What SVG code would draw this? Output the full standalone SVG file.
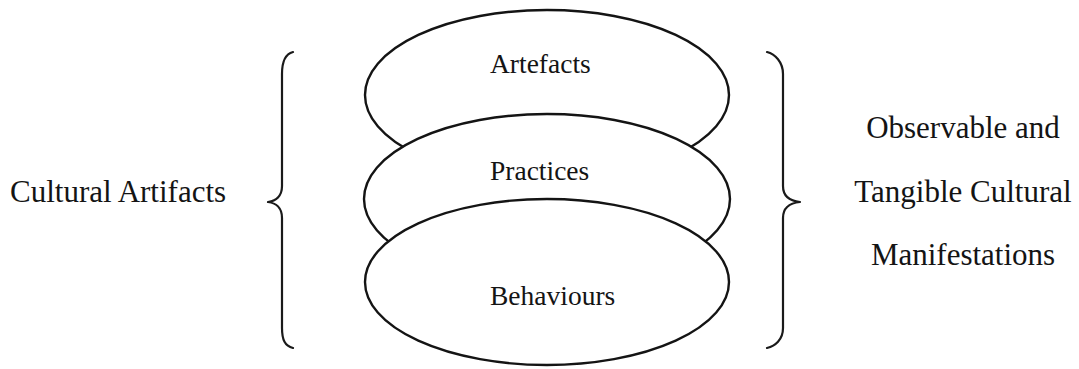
<svg xmlns="http://www.w3.org/2000/svg" width="1079" height="369" viewBox="0 0 1079 369">
  <style>
    .shape { fill: #ffffff; stroke: #141414; stroke-width: 2.4; }
    .brace { fill: none; stroke: #1a1a1a; stroke-width: 2.2; stroke-linecap: round; stroke-linejoin: round; }
    .lbl { font-family: "Liberation Serif", "Times New Roman", serif; fill: #141414; }
    .in { font-size: 27.5px; }
    .side { font-size: 31px; }
  </style>
  <rect width="1079" height="369" fill="#ffffff"/>
  <g id="artefacts">
    <ellipse class="shape" cx="547" cy="95" rx="182" ry="85"/>
    <text class="lbl in" x="490" y="73">Artefacts</text>
  </g>
  <g id="practices">
    <ellipse class="shape" cx="547" cy="199" rx="183" ry="85"/>
    <text class="lbl in" x="490" y="180">Practices</text>
  </g>
  <g id="behaviours">
    <ellipse class="shape" cx="547" cy="282" rx="182" ry="83"/>
    <text class="lbl in" x="490" y="305">Behaviours</text>
  </g>
  <g id="connectors">
    <path class="brace" d="M293,52 C285,54 282,62 282,74 L282,186 C282,196 276,201 268,202 C276,203 282,208 282,218 L282,328 C282,340 285,346 293,348"/>
    <path class="brace" d="M767,52 C775,54 783,62 783,74 L783,186 C783,196 790,201 800,202 C790,203 783,208 783,218 L783,328 C783,340 775,346 767,348"/>
  </g>
  <g id="left-label">
    <text class="lbl side" x="10" y="202">Cultural Artifacts</text>
  </g>
  <g id="right-label">
    <text class="lbl side" x="963" y="138" text-anchor="middle">Observable and</text>
    <text class="lbl side" x="963" y="202" text-anchor="middle">Tangible Cultural</text>
    <text class="lbl side" x="963" y="265" text-anchor="middle">Manifestations</text>
  </g>
</svg>
